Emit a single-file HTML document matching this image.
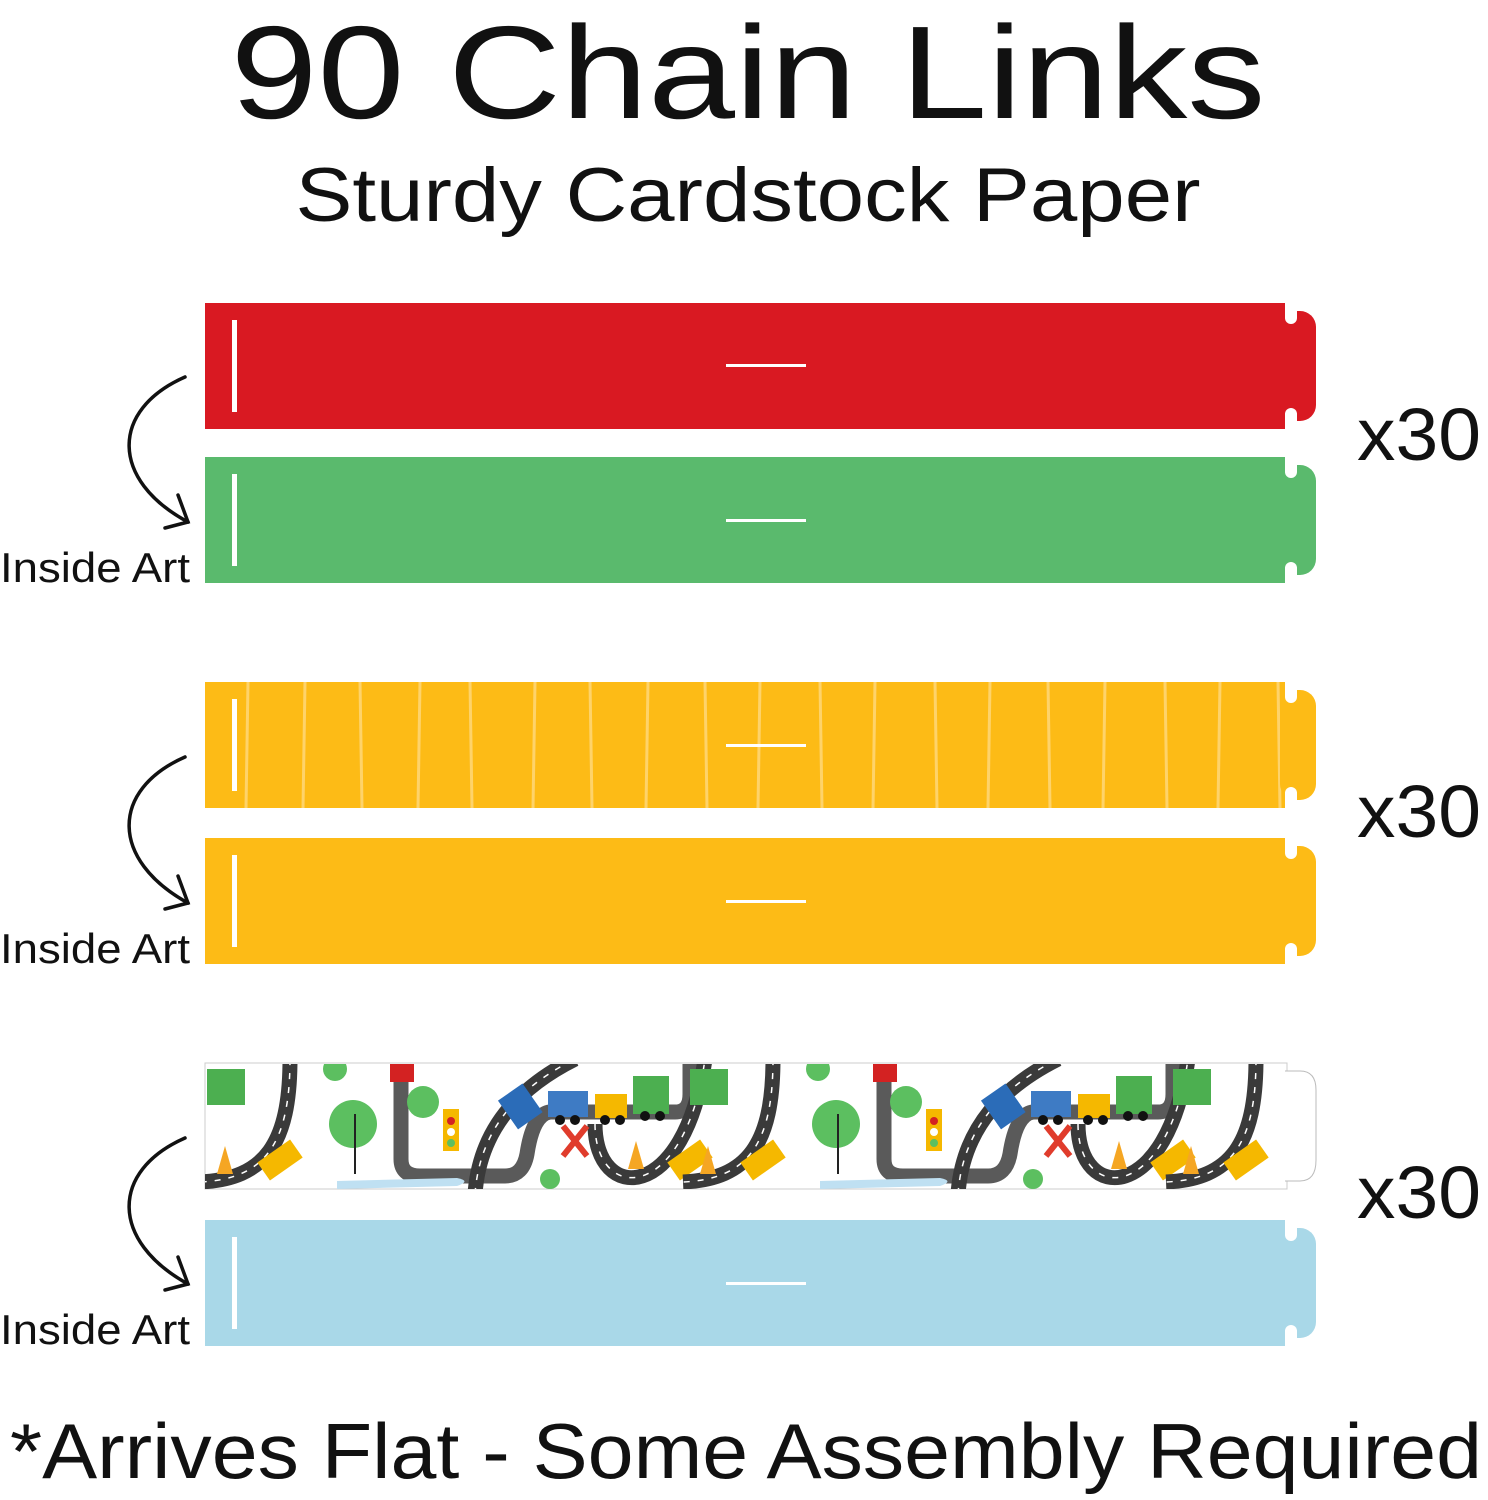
<!DOCTYPE html>
<html><head><meta charset="utf-8"><style>
html,body{margin:0;padding:0;background:#fff;}
svg{display:block;}
text{font-family:"Liberation Sans",sans-serif;fill:#111;}
</style></head><body>
<svg width="1488" height="1500" viewBox="0 0 1488 1500" xmlns="http://www.w3.org/2000/svg">
<defs>
<g id="tile">
  <path d="M85,-5 C85,80 60,115 -5,118" stroke="#3a3a3a" stroke-width="15" fill="none"/>
  <path d="M85,-5 C85,80 60,115 -5,118" stroke="#fff" stroke-width="1.5" stroke-dasharray="6 8" fill="none"/>
  <path d="M196,-5 V95 Q196,112 215,112 H300 Q318,112 322,90 Q328,50 345,48 H470 Q485,48 485,30 V-5" stroke="#5a5a5a" stroke-width="15" fill="none"/>
  <path d="M270,130 C275,60 320,20 370,-5" stroke="#3a3a3a" stroke-width="15" fill="none"/>
  <path d="M270,130 C275,60 320,20 370,-5" stroke="#fff" stroke-width="1.5" stroke-dasharray="6 8" fill="none"/>
  <path d="M390,60 C390,140 480,140 500,-5" stroke="#3a3a3a" stroke-width="15" fill="none"/>
  <path d="M390,60 C390,140 480,140 500,-5" stroke="#fff" stroke-width="1.5" stroke-dasharray="6 8" fill="none"/>
  <rect x="2" y="5" width="38" height="36" fill="#4caf50"/>
  <circle cx="148" cy="60" r="24" fill="#5cbf60"/><line x1="150" y1="50" x2="150" y2="110" stroke="#222" stroke-width="2"/>
  <circle cx="218" cy="38" r="16" fill="#5cbf60"/>
  <circle cx="130" cy="5" r="12" fill="#5cbf60"/>
  <rect x="185" y="0" width="24" height="18" fill="#d32222"/>
  <rect x="238" y="45" width="16" height="42" fill="#f5b800"/>
  <circle cx="246" cy="57" r="4" fill="#d32222"/><circle cx="246" cy="68" r="4" fill="#fff"/><circle cx="246" cy="79" r="4" fill="#5cbf60"/>
  <rect x="300" y="25" width="30" height="35" fill="#2b6cb8" transform="rotate(-35 315 42)"/>
  <rect x="343" y="27" width="40" height="26" fill="#3e7bc4"/>
  <rect x="390" y="30" width="32" height="24" fill="#f5b800"/>
  <rect x="428" y="12" width="36" height="38" fill="#4caf50"/>
  <circle cx="355" cy="56" r="5" fill="#111"/><circle cx="370" cy="56" r="5" fill="#111"/><circle cx="400" cy="56" r="5" fill="#111"/><circle cx="415" cy="56" r="5" fill="#111"/><circle cx="440" cy="52" r="5" fill="#111"/><circle cx="455" cy="52" r="5" fill="#111"/>
  <path d="M358,62 l24,30 M382,62 l-24,30" stroke="#e03c2c" stroke-width="6"/>
  <circle cx="345" cy="115" r="10" fill="#5cbf60"/>
  <path d="M132,117 l120,-3 q15,3 0,8 l-120,3z" fill="#bfe0f2"/>
  <path d="M12,110 l8,-28 l8,28z" fill="#f5a623"/>
  <path d="M423,105 l8,-28 l8,28z" fill="#f5a623"/>
  <rect x="55" y="85" width="40" height="22" fill="#f5b800" transform="rotate(-35 75 96)"/>
  <rect x="465" y="85" width="40" height="22" fill="#f5b800" transform="rotate(-35 485 96)"/>
</g>
<clipPath id="pc"><rect x="205" y="1064" width="1080" height="125"/></clipPath>
</defs>

<text x="748" y="118" font-size="132" text-anchor="middle" textLength="1035" lengthAdjust="spacingAndGlyphs">90 Chain Links</text>
<text x="748" y="221" font-size="76" text-anchor="middle" textLength="905" lengthAdjust="spacingAndGlyphs">Sturdy Cardstock Paper</text>

<!-- strips -->
<g id="s1">
  <rect x="205" y="303" width="1082" height="126" fill="#d91922"/>
  <rect x="1280" y="311" width="36" height="110" rx="16" fill="#d91922"/>
  <rect x="1285" y="290" width="12" height="34" rx="6" fill="#fff"/>
  <rect x="1285" y="408" width="12" height="34" rx="6" fill="#fff"/>
  <rect x="232" y="320" width="5" height="92" fill="#fff"/>
  <rect x="726" y="364" width="80" height="3" fill="#fff"/>
</g>
<g>
  <rect x="205" y="457" width="1082" height="126" fill="#5aba6d"/>
  <rect x="1280" y="465" width="36" height="110" rx="16" fill="#5aba6d"/>
  <rect x="1285" y="444" width="12" height="34" rx="6" fill="#fff"/>
  <rect x="1285" y="562" width="12" height="34" rx="6" fill="#fff"/>
  <rect x="232" y="474" width="5" height="92" fill="#fff"/>
  <rect x="726" y="519" width="80" height="3" fill="#fff"/>
</g>
<g>
  <rect x="205" y="682" width="1082" height="126" fill="#fdbb16"/>
  <g stroke="#fed36a" stroke-width="3">
    <line x1="248" y1="682" x2="246" y2="808"/><line x1="305" y1="682" x2="303" y2="808"/><line x1="360" y1="682" x2="362" y2="808"/><line x1="420" y1="682" x2="418" y2="808"/><line x1="470" y1="682" x2="472" y2="808"/><line x1="535" y1="682" x2="533" y2="808"/><line x1="590" y1="682" x2="592" y2="808"/><line x1="648" y1="682" x2="646" y2="808"/><line x1="705" y1="682" x2="707" y2="808"/><line x1="760" y1="682" x2="758" y2="808"/><line x1="820" y1="682" x2="822" y2="808"/><line x1="875" y1="682" x2="873" y2="808"/><line x1="935" y1="682" x2="937" y2="808"/><line x1="990" y1="682" x2="988" y2="808"/><line x1="1048" y1="682" x2="1050" y2="808"/><line x1="1105" y1="682" x2="1103" y2="808"/><line x1="1165" y1="682" x2="1167" y2="808"/><line x1="1220" y1="682" x2="1218" y2="808"/><line x1="1278" y1="682" x2="1280" y2="808"/>
  </g>
  <rect x="1280" y="690" width="36" height="110" rx="16" fill="#fdbb16"/>
  <rect x="1285" y="669" width="12" height="34" rx="6" fill="#fff"/>
  <rect x="1285" y="787" width="12" height="34" rx="6" fill="#fff"/>
  <rect x="232" y="699" width="5" height="92" fill="#fff"/>
  <rect x="726" y="744" width="80" height="3" fill="#fff"/>
</g>
<g>
  <rect x="205" y="838" width="1082" height="126" fill="#fdbb16"/>
  <rect x="1280" y="846" width="36" height="110" rx="16" fill="#fdbb16"/>
  <rect x="1285" y="825" width="12" height="34" rx="6" fill="#fff"/>
  <rect x="1285" y="943" width="12" height="34" rx="6" fill="#fff"/>
  <rect x="232" y="855" width="5" height="92" fill="#fff"/>
  <rect x="726" y="900" width="80" height="3" fill="#fff"/>
</g>
<g>
  <rect x="205" y="1063" width="1082" height="126" fill="#fff" stroke="#ccc"/>
  <g clip-path="url(#pc)">
    <use href="#tile" transform="translate(205,1064)"/>
    <use href="#tile" transform="translate(688,1064)"/>
    <use href="#tile" transform="translate(1171,1064)"/>
  </g>
  <path d="M1285,1071 H1300 Q1316,1071 1316,1090 V1160 Q1316,1181 1300,1181 H1285" fill="#fff" stroke="#bbb"/>
</g>
<g>
  <rect x="205" y="1220" width="1082" height="126" fill="#a9d8e8"/>
  <rect x="1280" y="1228" width="36" height="110" rx="16" fill="#a9d8e8"/>
  <rect x="1285" y="1207" width="12" height="34" rx="6" fill="#fff"/>
  <rect x="1285" y="1325" width="12" height="34" rx="6" fill="#fff"/>
  <rect x="232" y="1237" width="5" height="92" fill="#fff"/>
  <rect x="726" y="1282" width="80" height="3" fill="#fff"/>
</g>

<!-- arrows and labels -->
<g fill="none" stroke="#111" stroke-width="3.5" stroke-linecap="round">
  <path d="M185,377 C110,410 110,480 188,522"/><path d="M178,495 L188,522 L165,528"/>
  <path d="M185,757 C110,790 110,860 188,903"/><path d="M178,876 L188,903 L165,909"/>
  <path d="M185,1138 C110,1171 110,1241 188,1284"/><path d="M178,1257 L188,1284 L165,1290"/>
</g>
<text x="0" y="582" font-size="42" textLength="190" lengthAdjust="spacingAndGlyphs">Inside Art</text>
<text x="0" y="963" font-size="42" textLength="190" lengthAdjust="spacingAndGlyphs">Inside Art</text>
<text x="0" y="1344" font-size="42" textLength="190" lengthAdjust="spacingAndGlyphs">Inside Art</text>

<text x="1357" y="460" font-size="74" textLength="124" lengthAdjust="spacingAndGlyphs">x30</text>
<text x="1357" y="837" font-size="74" textLength="124" lengthAdjust="spacingAndGlyphs">x30</text>
<text x="1357" y="1218" font-size="74" textLength="124" lengthAdjust="spacingAndGlyphs">x30</text>

<text x="10" y="1478" font-size="78" textLength="1472" lengthAdjust="spacingAndGlyphs">*Arrives Flat - Some Assembly Required</text>
</svg>
</body></html>
